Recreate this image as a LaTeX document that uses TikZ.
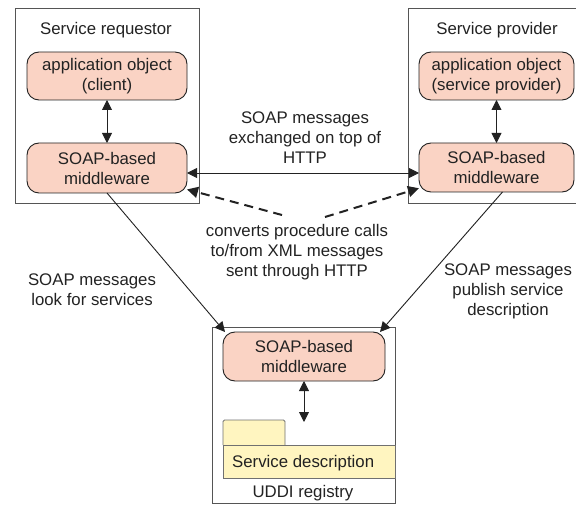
\documentclass[tikz,border=0pt]{standalone}
\usepackage{fontspec}
\setmainfont{Liberation Sans}
\usetikzlibrary{arrows.meta,calc}
\definecolor{boxfill}{HTML}{FAD3C4}
\definecolor{docfill}{HTML}{FFF5C0}
\definecolor{frame}{HTML}{555555}
\definecolor{docline}{HTML}{707070}
\definecolor{ink}{HTML}{222222}

\begin{document}
\begin{tikzpicture}[x=1pt,y=-1pt,
  font=\fontsize{16.8}{20}\selectfont,
  container/.style={draw=frame,line width=0.9pt,inner sep=0pt,outer sep=0pt},
  compbox/.style={draw=ink,fill=boxfill,rounded corners=12pt,line width=0.9pt,
    inner sep=0pt,outer sep=0pt,align=center,text=ink},
  lbl/.style={align=center,text=ink,inner sep=0pt},
  link/.style={draw=ink,line width=0.9pt,-{Triangle[length=10pt,width=10pt]}},
  duallink/.style={draw=ink,line width=0.9pt,
    {Triangle[length=10pt,width=10pt]}-{Triangle[length=10pt,width=10pt]}},
  convlink/.style={draw=ink,line width=2pt,dash pattern=on 9pt off 6pt,
    -{Triangle[length=11pt,width=11pt]}}]

\useasboundingbox (0,0) rectangle (576,505);

% outer frames of the three parties
\node[container,minimum width=184pt,minimum height=195pt] (req) at (107,105.5) {};
\node[container,minimum width=170pt,minimum height=195pt] (prov) at (493,105.5) {};
\node[container,minimum width=183pt,minimum height=176pt] (uddi) at (303.5,415) {};

\node[lbl] (reqT) at (106,30) {Service requestor};
\node[lbl] (provT) at (497,30) {Service provider};
\node[lbl] (uddiT) at (303,493) {UDDI registry};

% components
\node[compbox,minimum width=160pt,minimum height=48pt] (appC) at (107,76)
  {application object\\(client)};
\node[compbox,minimum width=160pt,minimum height=50pt] (mwC) at (107,168)
  {SOAP-based\\middleware};
\node[compbox,minimum width=155pt,minimum height=48pt] (appP) at (496.5,76)
  {application object\\(service provider)};
\node[compbox,minimum width=155pt,minimum height=49pt] (mwP) at (496.5,167.5)
  {SOAP-based\\middleware};
\node[compbox,minimum width=162pt,minimum height=49pt] (mwU) at (304,356.5)
  {SOAP-based\\middleware};

% service description folder: tab, then body
\draw[draw=docline,fill=docfill,line width=0.9pt,rounded corners=1.5pt]
  (223,445) -- (223,420) -- (285,420) -- (285,445);
\draw[draw=docline,fill=docfill,line width=0.9pt]
  (223,445) rectangle (395,478);
\node[lbl,anchor=west] (sdT) at (232,463) {Service description};
\coordinate (sdTop) at (305,422);

% connectors
\draw[duallink] (appC.south) -- (mwC.north);
\draw[duallink] (appP.south) -- (mwP.north);
\draw[duallink] (mwU.south) -- (mwU.south |- sdTop);
\draw[duallink] ([yshift=-5pt]mwC.east) -- ([yshift=-5pt]mwC.east -| mwP.west);
\draw[link] (mwC.south) -- ([xshift=2pt]mwU.north west);
\draw[link] ([xshift=6pt]mwP.south) -- ([xshift=-5pt]mwU.north east);

\coordinate (cL) at (282,215);
\coordinate (cR) at (325,217);
\draw[convlink] (cL) -- (mwC.-15);
\draw[convlink] (cR) -- (mwP.195);

% labels
\node[lbl] (httpT) at (305,138) {SOAP messages\\exchanged on top of\\HTTP};
\node[lbl] (convT) at (297,252) {converts procedure calls\\to/from XML messages\\sent through HTTP};
\node[lbl] (lookT) at (92,290) {SOAP messages\\look for services};
\node[lbl] (pubT) at (508,291) {SOAP messages\\publish service\\description};
\end{tikzpicture}
\end{document}
